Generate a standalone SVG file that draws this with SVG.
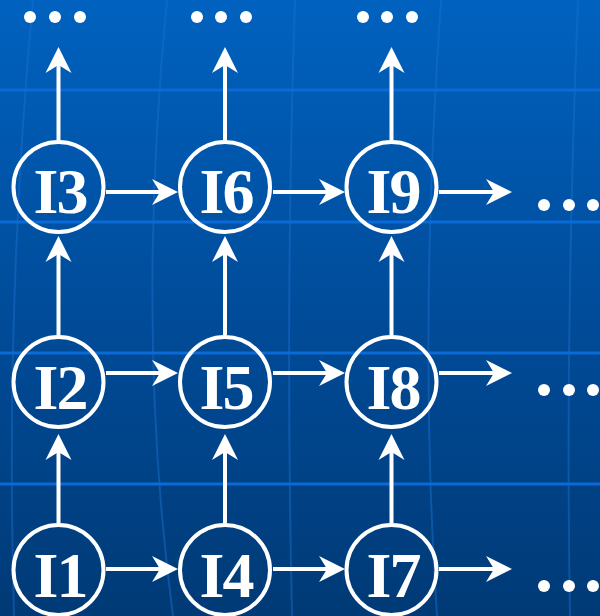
<svg xmlns="http://www.w3.org/2000/svg" width="600" height="616" viewBox="0 0 600 616">
<defs>
<linearGradient id="bg" x1="0" y1="0" x2="0" y2="1">
<stop offset="0" stop-color="#0062bf"/>
<stop offset="0.5" stop-color="#004c9a"/>
<stop offset="1" stop-color="#003a76"/>
</linearGradient>
<marker id="ah" markerUnits="userSpaceOnUse" markerWidth="40" markerHeight="40" refX="0" refY="0" viewBox="-20 -20 40 40" orient="auto" overflow="visible">
<path d="M10,0 L-16,-13 L-8,0 L-16,13 Z" fill="#fff"/>
</marker>
<style>
.node circle{fill:none;stroke:#fff;stroke-width:4}
.node text{font-family:"Liberation Serif","Times New Roman",serif;font-weight:bold;font-size:64px;fill:#fff;text-anchor:middle;letter-spacing:-2px}
.edge{stroke:#fff;stroke-width:4;fill:none;marker-end:url(#ah)}
.hl{stroke:#0a6ad6;stroke-width:3}
.vl{stroke:#1a70d0;stroke-width:2;fill:none;opacity:0.45}
.dot{fill:#fff}
</style>
</defs>
<rect width="600" height="616" fill="url(#bg)"/>
<g id="background-lines">
<path class="vl" d="M33,0 Q5,300 14,616"/>
<path class="vl" d="M167,0 Q135,330 173,616"/>
<path class="vl" d="M295,0 Q285,300 292,616"/>
<path class="vl" d="M441,0 Q418,330 437,616"/>
<path class="vl" d="M578,0 Q565,330 570,616"/>
<line class="hl" x1="0" y1="90" x2="600" y2="90"/>
<line class="hl" x1="0" y1="222" x2="600" y2="222"/>
<line class="hl" x1="0" y1="353" x2="600" y2="353"/>
<line class="hl" x1="0" y1="484" x2="600" y2="484"/>
</g>
<g id="connectors">
<line class="edge" x1="58.5" y1="140" x2="58.5" y2="57"/>
<line class="edge" x1="225" y1="140" x2="225" y2="57"/>
<line class="edge" x1="391.5" y1="140" x2="391.5" y2="57"/>
<line class="edge" x1="58.5" y1="335" x2="58.5" y2="246"/>
<line class="edge" x1="225" y1="335" x2="225" y2="246"/>
<line class="edge" x1="391.5" y1="335" x2="391.5" y2="246"/>
<line class="edge" x1="58.5" y1="523" x2="58.5" y2="444"/>
<line class="edge" x1="225" y1="523" x2="225" y2="444"/>
<line class="edge" x1="391.5" y1="523" x2="391.5" y2="444"/>
<line class="edge" x1="106" y1="192" x2="168" y2="192"/>
<line class="edge" x1="273" y1="192" x2="335" y2="192"/>
<line class="edge" x1="439" y1="192" x2="502" y2="192"/>
<line class="edge" x1="106" y1="373" x2="168" y2="373"/>
<line class="edge" x1="273" y1="373" x2="335" y2="373"/>
<line class="edge" x1="439" y1="373" x2="502" y2="373"/>
<line class="edge" x1="106" y1="569" x2="168" y2="569"/>
<line class="edge" x1="273" y1="569" x2="335" y2="569"/>
<line class="edge" x1="439" y1="569" x2="502" y2="569"/>
</g>
<g id="ellipses">
<circle class="dot" cx="30" cy="17" r="6"/><circle class="dot" cx="55" cy="17" r="6"/><circle class="dot" cx="80" cy="17" r="6"/>
<circle class="dot" cx="197" cy="17" r="6"/><circle class="dot" cx="221" cy="17" r="6"/><circle class="dot" cx="246" cy="17" r="6"/>
<circle class="dot" cx="363" cy="17" r="6"/><circle class="dot" cx="387" cy="17" r="6"/><circle class="dot" cx="412" cy="17" r="6"/>
<circle class="dot" cx="544" cy="205" r="6"/><circle class="dot" cx="569" cy="205" r="6"/><circle class="dot" cx="593" cy="205" r="6"/>
<circle class="dot" cx="544" cy="390" r="6"/><circle class="dot" cx="569" cy="390" r="6"/><circle class="dot" cx="593" cy="390" r="6"/>
<circle class="dot" cx="544" cy="586" r="6"/><circle class="dot" cx="569" cy="586" r="6"/><circle class="dot" cx="593" cy="586" r="6"/>
</g>
<g id="I3" class="node"><circle cx="58.5" cy="187" r="45"/><text x="60" y="213">I3</text></g>
<g id="I6" class="node"><circle cx="225" cy="187" r="45"/><text x="226" y="213">I6</text></g>
<g id="I9" class="node"><circle cx="391.5" cy="187" r="45"/><text x="393" y="213">I9</text></g>
<g id="I2" class="node"><circle cx="58.5" cy="382" r="45"/><text x="60" y="409">I2</text></g>
<g id="I5" class="node"><circle cx="225" cy="382" r="45"/><text x="226" y="409">I5</text></g>
<g id="I8" class="node"><circle cx="391.5" cy="382" r="45"/><text x="393" y="409">I8</text></g>
<g id="I1" class="node"><circle cx="58.5" cy="570" r="45"/><text x="60" y="597">I1</text></g>
<g id="I4" class="node"><circle cx="225" cy="570" r="45"/><text x="226" y="597">I4</text></g>
<g id="I7" class="node"><circle cx="391.5" cy="570" r="45"/><text x="393" y="597">I7</text></g>
</svg>
